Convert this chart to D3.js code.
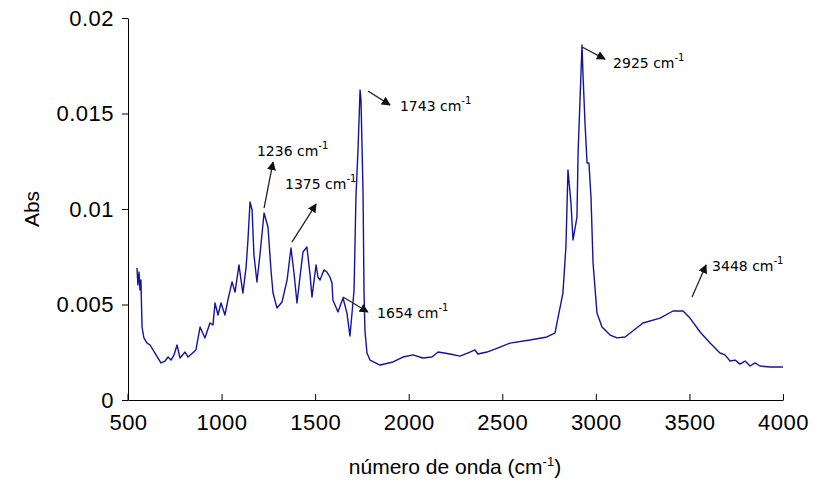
<!DOCTYPE html>
<html>
<head>
<meta charset="utf-8">
<script src="https://cdn.jsdelivr.net/npm/d3@7"></script>
<style>
  body { margin: 0; background: #fff; }
  #chart { width: 829px; height: 490px; }
</style>
</head>
<body>
<div id="chart"></div>
<script>
// spectrum (wavenumber cm-1, absorbance)
const wavenumber = [548, 553, 559, 564, 569, 575, 585, 602, 618, 644, 676, 698, 714, 730, 746, 762, 778, 805, 821, 863,
    885, 911, 938, 954, 965, 981, 997, 1018, 1034, 1056, 1072, 1093, 1104, 1114, 1131, 1141, 1152, 1163, 1173, 1189,
    1205, 1227, 1248, 1264, 1275, 1296, 1323, 1350, 1371, 1387, 1403, 1419, 1435, 1456, 1473, 1483, 1505, 1515, 1526, 1547,
    1563, 1579, 1590, 1595, 1622, 1649, 1670, 1686, 1708, 1718, 1729, 1740, 1745, 1756, 1761, 1766, 1777, 1793, 1847, 1916,
    1969, 2023, 2076, 2124, 2157, 2221, 2274, 2327, 2354, 2370, 2418, 2488, 2541, 2648, 2739, 2782, 2792, 2824, 2840, 2851,
    2867, 2878, 2899, 2905, 2926, 2931, 2942, 2953, 2963, 2974, 2985, 3006, 3033, 3076, 3113, 3156, 3252, 3343, 3412, 3466,
    3503, 3557, 3610, 3637, 3663, 3690, 3717, 3744, 3770, 3797, 3824, 3850, 3877, 3931, 4000];
const absorbance = [0.00691, 0.00602, 0.00670, 0.00576, 0.00628, 0.00382, 0.00325, 0.00298, 0.00288, 0.00246, 0.00194, 0.00204, 0.00225, 0.00209, 0.00236, 0.00288, 0.00220, 0.00251, 0.00225, 0.00262,
    0.00382, 0.00325, 0.00403, 0.00393, 0.00508, 0.00445, 0.00508, 0.00445, 0.00524, 0.00618, 0.00565, 0.00707, 0.00628, 0.00560, 0.00696, 0.00838, 0.01037, 0.00995, 0.00759, 0.00618,
    0.00759, 0.00979, 0.00906, 0.00681, 0.00560, 0.00482, 0.00513, 0.00628, 0.00796, 0.00665, 0.00508, 0.00644, 0.00775, 0.00801, 0.00654, 0.00539, 0.00707, 0.00644, 0.00628, 0.00681,
    0.00670, 0.00644, 0.00613, 0.00524, 0.00461, 0.00534, 0.00455, 0.00335, 0.00576, 0.01063, 0.01309, 0.01623, 0.01571, 0.01084, 0.00576, 0.00366, 0.00246, 0.00209, 0.00183, 0.00199,
    0.00225, 0.00236, 0.00220, 0.00225, 0.00251, 0.00241, 0.00230, 0.00251, 0.00262, 0.00241, 0.00251, 0.00277, 0.00298, 0.00314, 0.00330, 0.00351, 0.00403, 0.00560, 0.00801, 0.01204,
    0.01031, 0.00838, 0.00958, 0.01293, 0.01859, 0.01712, 0.01450, 0.01241, 0.01241, 0.01063, 0.00717, 0.00455, 0.00382, 0.00340, 0.00325, 0.00330, 0.00403, 0.00429, 0.00466, 0.00466,
    0.00429, 0.00356, 0.00298, 0.00272, 0.00246, 0.00236, 0.00204, 0.00209, 0.00188, 0.00204, 0.00178, 0.00194, 0.00178, 0.00173, 0.00173];

const xTicks = [500, 1000, 1500, 2000, 2500, 3000, 3500, 4000];
const yTicks = [0, 0.005, 0.01, 0.015, 0.02];

// peak labels: arrow from (w0,a0) to (w1,a1), text at (wt,at)
const peakLabels = ["1236", "1375", "1743", "1654", "2925", "3448"];
const arrowFrom = [[1227, 0.01005], [1376, 0.00827], [1782, 0.01618], [1649, 0.00539], [2926, 0.01848], [3514, 0.00539]];
const arrowTo = [[1275, 0.01246], [1505, 0.01026], [1900, 0.01545], [1782, 0.00461], [3049, 0.01785], [3589, 0.00707]];
const labelAt = [[1189, 0.01304], [1339, 0.01131], [1953, 0.01539], [1831, 0.00455], [3092, 0.01764], [3621, 0.00702]];

const margin = {top: 18, right: 46, bottom: 90, left: 128};
const width = 829 - margin.left - margin.right,
    height = 490 - margin.top - margin.bottom;

const svg = d3.select("#chart").append("svg")
    .attr("width", 829)
    .attr("height", 490)
    .append("g")
    .attr("transform", `translate(${margin.left},${margin.top})`);

svg.append("defs").append("marker")
    .attr("id", "arrow")
    .attr("viewBox", "0 0 10 10")
    .attr("refX", 9).attr("refY", 5)
    .attr("markerWidth", 9).attr("markerHeight", 9)
    .attr("markerUnits", "userSpaceOnUse")
    .attr("orient", "auto")
    .append("path")
    .attr("d", "M0,0 L10,5 L0,10 z")
    .attr("fill", "#111");

const x = d3.scaleLinear().domain([500, 4000]).range([0, width]);
const y = d3.scaleLinear().domain([0, 0.02]).range([height, 0]);

const xAxis = d3.axisBottom(x).tickValues(xTicks).tickSizeInner(-6).tickSizeOuter(0).tickPadding(14)
    .tickFormat(d3.format("d"));
const yAxis = d3.axisLeft(y).tickValues(yTicks).tickSizeInner(6).tickSizeOuter(0).tickPadding(8)
    .tickFormat(d => d === 0 ? "0" : String(+d.toFixed(3)));

const fontAxis = "'Liberation Sans', Arial, sans-serif";

svg.append("g")
    .attr("class", "x-axis axis")
    .attr("transform", `translate(0,${height})`)
    .call(xAxis);

svg.append("g")
    .attr("class", "y-axis axis")
    .call(yAxis);

svg.selectAll(".axis path, .axis line").attr("stroke", "#000").attr("stroke-width", 1);
svg.selectAll(".axis text")
    .attr("font-family", fontAxis)
    .attr("font-size", 22)
    .attr("letter-spacing", 0.5)
    .attr("fill", "#000");
// little cross at the origin
svg.select(".x-axis").append("line")
    .attr("x1", 0).attr("x2", 0).attr("y1", -6).attr("y2", 0).attr("stroke", "#000");

// spectrum
const points = wavenumber.map((w, i) => [w, absorbance[i]]);
svg.append("path")
    .datum(points)
    .attr("fill", "none")
    .attr("stroke", "#14149a")
    .attr("stroke-width", 1.4)
    .attr("stroke-linejoin", "round")
    .attr("d", d3.line().x(d => x(d[0])).y(d => y(d[1])));

// annotations
peakLabels.forEach((lab, i) => {
    svg.append("line")
        .attr("x1", x(arrowFrom[i][0])).attr("y1", y(arrowFrom[i][1]))
        .attr("x2", x(arrowTo[i][0])).attr("y2", y(arrowTo[i][1]))
        .attr("stroke", "#222")
        .attr("stroke-width", 1.3)
        .attr("marker-end", "url(#arrow)");

    let t = svg.append("text")
        .attr("x", x(labelAt[i][0]))
        .attr("y", y(labelAt[i][1]) + 5)
        .attr("font-family", "'DejaVu Sans', Verdana, sans-serif")
        .attr("font-size", 14)
        .attr("fill", "#000");
    t.append("tspan").text(lab + " cm");
    t.append("tspan").attr("dy", -7).attr("font-size", 10).text("-1");
});

// axis titles
svg.append("text")
    .attr("transform", `translate(${33 - margin.left},${209 - margin.top}) rotate(-90)`)
    .attr("text-anchor", "middle")
    .attr("dominant-baseline", "middle")
    .attr("font-family", fontAxis)
    .attr("font-size", 21)
    .text("Abs");

let xt = svg.append("text")
    .attr("x", 455 - margin.left)
    .attr("y", 474 - margin.top)
    .attr("text-anchor", "middle")
    .attr("font-family", fontAxis)
    .attr("font-size", 21);
xt.append("tspan").text("número de onda (cm");
xt.append("tspan").attr("dy", -8).attr("font-size", 13).text("-1");
xt.append("tspan").attr("dy", 8).text(")");
</script>
</body>
</html>
